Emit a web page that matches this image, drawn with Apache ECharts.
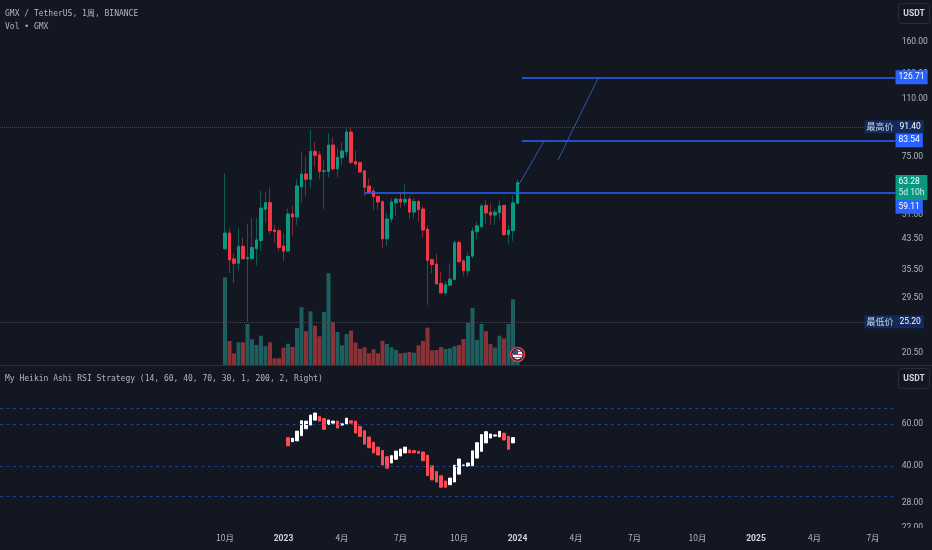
<!DOCTYPE html>
<html><head><meta charset="utf-8"><style>html,body{margin:0;padding:0;background:#131722}#c{width:932px;height:550px}</style>
<script src="https://cdn.jsdelivr.net/npm/echarts@6/dist/echarts.min.js"></script></head>
<body><div id="c"></div><script>
const opens=[40.8,45.3,38.2,37.1,41.5,38.2,38.3,40.8,43.1,53.0,55.4,46.2,46.0,41.6,40.2,51.4,50.4,61.5,66.9,64.6,77.7,75.9,68.0,68.0,81.0,69.2,74.5,77.5,88.3,72.6,72.1,68.3,61.8,59.8,57.7,55.7,43.6,49.7,55.3,56.7,55.6,56.7,52.0,55.8,53.1,46.5,38.0,36.9,32.5,30.5,32.1,33.3,42.6,37.7,35.3,38.9,45.7,47.2,54.4,52.0,51.0,51.8,54.4,44.8,46.0,55.1];
const closes=[45.3,37.9,37.1,41.5,38.2,38.5,41.2,43.3,53.4,55.4,46.0,45.7,41.2,40.2,51.4,50.4,61.8,66.9,64.6,77.7,75.7,68.0,68.3,81.0,69.2,74.7,77.9,88.3,72.3,71.5,67.8,61.3,59.4,57.6,55.6,43.6,49.7,55.6,56.7,55.6,56.6,52.0,55.8,52.9,46.2,37.8,36.8,32.4,30.5,32.2,33.4,42.5,37.5,35.3,38.8,45.9,47.5,54.2,51.7,51.0,52.0,54.2,44.8,46.2,55.3,63.28];
const lows=[40.8,34.8,32.6,35.4,38.2,25.2,37.7,36.5,40.3,48.5,44.8,42.5,40.2,37.7,40.2,44.6,47.8,55.3,57.7,61.1,70.2,64.6,53.1,65.5,68.4,65.5,71.0,75.0,71.4,69.9,67.5,58.0,59.0,52.5,53.0,41.1,41.6,48.5,50.8,53.5,54.2,49.7,50.1,48.8,44.0,28.2,34.8,32.2,30.4,30.0,32.1,33.2,37.1,34.2,34.2,38.3,43.5,47.0,48.0,47.8,47.8,49.4,44.5,42.2,43.0,55.1];
const highs=[67.2,46.7,39.6,46.9,44.0,48.1,50.0,50.1,59.8,59.3,61.3,47.8,46.7,45.3,53.3,54.2,64.6,77.5,75.0,89.5,82.6,78.0,73.4,87.6,85.1,79.6,82.4,90.5,91.4,78.0,72.6,68.7,65.0,61.1,58.2,56.3,51.7,57.0,57.3,59.1,62.4,57.7,57.0,56.3,54.2,47.7,38.3,39.5,35.1,33.0,37.1,43.1,43.1,38.1,39.9,47.0,48.8,55.0,56.3,55.2,52.9,56.3,54.6,47.8,58.2,64.6];
const volumes=[877,240,117,227,227,410,257,200,293,187,227,67,67,173,213,180,370,577,337,537,393,287,530,917,433,330,197,310,343,223,163,177,117,157,117,243,210,177,150,117,123,130,123,197,240,373,147,150,180,160,167,187,200,260,423,570,250,410,337,210,173,293,267,410,657,100];
const rsiOpens=[52.6,50.6,51.0,53.6,57.3,59.4,62.3,64.6,63.3,59.7,60.5,61.7,59.4,59.7,61.9,61.7,58.6,56.2,52.9,50.3,48.0,46.5,43.8,41.2,42.7,44.1,45.4,46.7,46.4,46.1,45.8,44.4,40.1,37.9,36.4,34.6,33.4,34.3,37.0,40.3,39.9,40.1,43.2,46.1,50.0,52.4,53.4,53.0,54.9,53.2,50.0];
const rsiCloses=[48.6,52.3,56.0,61.9,61.7,65.4,66.7,61.7,57.0,62.3,61.7,57.7,60.1,63.5,60.5,55.0,53.2,49.4,47.7,45.4,44.5,40.4,39.2,44.2,46.2,47.1,48.0,45.4,45.5,45.2,42.1,36.5,35.0,34.3,32.6,32.6,35.6,40.3,42.8,40.4,41.2,46.3,50.1,54.2,55.7,54.5,54.0,55.9,51.4,47.0,52.6];
const rsiFirst=14;
const priceTicks=[160,130,110,75,51,43.5,35.5,29.5,24.5,20.5];
const rsiTicks=[60,40,28,22];
const rsiLevels=[70,60,40,30];
const monthLabels={'2022-10-03':'10月','2023-01-02':'2023','2023-04-03':'4月','2023-07-03':'7月','2023-10-02':'10月','2024-01-01':'2024','2024-04-01':'4月','2024-07-01':'7月','2024-10-07':'10月','2025-01-06':'2025','2025-04-07':'4月','2025-07-07':'7月'};

const OFFSET=50, TOTAL=200;
const dates=[];
for(let k=0;k<TOTAL;k++){const d=new Date(Date.UTC(2022,9,3)+(k-OFFSET)*7*864e5);dates.push(d.toISOString().slice(0,10));}
const at=i=>dates[i+OFFSET];
const bg='#131722', UP='#089981', DN='#f23645', UPW='#0d5c52', DNW='#80293a', BLUE='#2962ff', DARKPILL='#132a5c', TXT='#b2b5be';
const F='Roboto,sans-serif', FS=8.5;
const lvl=(fromIdx,val,color,type,width,label)=>[
 {coord:[at(fromIdx),val],lineStyle:{color,type,width},label:label||{show:false}},
 {coord:[dates[TOTAL-1],val]}];
const pill=(text,bgc,off)=>({show:true,position:'end',distance:0,formatter:text,color:'#fff',fontFamily:F,fontSize:FS,backgroundColor:bgc,padding:[2,3,2,3],lineHeight:10,offset:off||[0,0]});
const hiLo=(name,val)=>({show:true,position:'end',distance:0,offset:[-31,0],formatter:`{a|${name}}{b|${val.toFixed(2)}}`,rich:{
 a:{backgroundColor:DARKPILL,color:'#d1d4dc',fontFamily:'"Noto Sans CJK SC"',fontSize:9,padding:[1,1,1,2],height:11,lineHeight:11},
 b:{backgroundColor:DARKPILL,color:'#fff',fontFamily:F,fontSize:FS,padding:[1,3,1,5],height:11,lineHeight:11}}});
const gridBase={left:-2.25,width:900,outerBoundsMode:'none'};
const titleStyle={fontFamily:'"DejaVu Sans Mono","Noto Sans CJK SC"',fontSize:8,fontWeight:'normal',color:TXT};

const option={
 backgroundColor:bg,animation:false,
 title:[
  {text:'GMX / TetherUS, 1周, BINANCE',left:5,top:10,padding:0,textStyle:titleStyle},
  {text:'Vol • GMX',left:5,top:23,padding:0,textStyle:titleStyle},
  {text:'My Heikin Ashi RSI Strategy (14, 60, 40, 70, 30, 1, 200, 2, Right)',left:5,top:375,padding:0,textStyle:titleStyle}
 ],
 grid:[
  {...gridBase,top:0,height:365},
  {...gridBase,top:0,height:365},
  {...gridBase,top:366,height:162}
 ],
 xAxis:[0,1,2].map(g=>({type:'category',gridIndex:g,data:dates,boundaryGap:true,z:5,
  axisLine:{show:false},axisTick:{show:false},splitLine:{show:false},
  axisLabel:g<2?{show:false}:{show:true,margin:6,color:TXT,fontFamily:'"Noto Sans CJK SC"',fontSize:8.5,
   interval:(idx,val)=>val in monthLabels,
   formatter:v=>{const t=monthLabels[v]||'';return /^\d{4}$/.test(t)?`{y|${t}}`:t;},
   rich:{y:{fontWeight:'bold',color:'#d1d4dc',fontFamily:F,fontSize:8.5}}}})),
 yAxis:[
  {type:'log',logBase:Math.E,gridIndex:0,position:'right',min:18.95,max:211.1,axisLine:{show:false},axisTick:{show:false},splitLine:{show:false},
   axisLabel:{show:true,customValues:priceTicks,margin:4,color:TXT,fontFamily:F,fontSize:FS,formatter:v=>(+v).toFixed(2)}},
  {type:'value',gridIndex:1,min:0,max:3650,show:false},
  {type:'log',logBase:Math.E,gridIndex:2,position:'right',min:22,max:105,axisLine:{show:false},axisTick:{show:false},splitLine:{show:false},
   axisLabel:{show:true,customValues:rsiTicks,margin:4,color:TXT,fontFamily:F,fontSize:FS,formatter:v=>(+v).toFixed(2)}}
 ],
 series:[
  {type:'bar',name:'Vol',xAxisIndex:1,yAxisIndex:1,barWidth:4,silent:true,
   data:volumes.map((v,i)=>({value:[at(i),v],itemStyle:{color:closes[i]>=opens[i]?'#1d5f5e':'#8a3238'}}))},
  {type:'candlestick',name:'wick',xAxisIndex:0,yAxisIndex:0,barWidth:1,silent:true,encode:{x:0,y:[1,2,3,4]},
   itemStyle:{color:UPW,color0:DNW,borderColor:UPW,borderColor0:DNW,borderWidth:1},
   data:opens.map((o,i)=>[at(i),o,closes[i],lows[i],highs[i]]),
   markLine:{silent:true,symbol:'none',animation:false,precision:2,data:[
    [{coord:[dates[0],91.40],lineStyle:{color:'#434651',type:'dotted',width:1},label:hiLo('最高价',91.40)},{coord:[dates[TOTAL-1],91.40]}],
    [{coord:[dates[0],25.20],lineStyle:{color:'#434651',type:'dotted',width:1},label:hiLo('最低价',25.20)},{coord:[dates[TOTAL-1],25.20]}],
    lvl(66,126.71,BLUE,'solid',1.5,pill('126.71',BLUE)),
    lvl(66,83.54,BLUE,'solid',1.5,pill('83.54',BLUE)),
    lvl(31,59.11,BLUE,'solid',1.5,pill('59.11',BLUE,[0,14])),
    [{coord:[at(65),61.4],lineStyle:{color:'#2f62b8',type:'solid',width:0.9},label:{show:false}},{coord:[at(71),83.54]}],
    [{coord:[at(74),73.4],lineStyle:{color:'#2f62b8',type:'solid',width:0.9},label:{show:false}},{coord:[at(83),126.71]}],
    [{coord:[dates[TOTAL-2],63.28],lineStyle:{color:'rgba(0,0,0,0)',width:1},label:{show:true,position:'end',distance:0,offset:[0,5],backgroundColor:UP,padding:[2,3,2,3],
      formatter:'{a|63.28}\n{b|5d 10h}',rich:{a:{color:'#fff',fontFamily:F,fontSize:FS,lineHeight:10.5},b:{color:'#d8f2ec',fontFamily:F,fontSize:FS,lineHeight:10.5}}}},{coord:[dates[TOTAL-1],63.28]}]
   ]}},
  {type:'candlestick',name:'GMX',xAxisIndex:0,yAxisIndex:0,barWidth:3,silent:true,encode:{x:0,y:[1,2,3,4]},
   itemStyle:{color:UP,color0:DN,borderColor:UP,borderColor0:DN,borderWidth:1},
   data:opens.map((o,i)=>[at(i),o,closes[i],Math.min(o,closes[i]),Math.max(o,closes[i])])},
  {type:'candlestick',name:'RSI',xAxisIndex:2,yAxisIndex:2,barWidth:3,silent:true,encode:{x:0,y:[1,2,3,4]},
   itemStyle:{color:'#ffffff',color0:'#ff4a52',borderColor:'#ffffff',borderColor0:'#ff4a52',borderWidth:1},
   data:rsiOpens.map((o,k)=>[at(k+rsiFirst),o,rsiCloses[k],Math.min(o,rsiCloses[k]),Math.max(o,rsiCloses[k])]),
   markLine:{silent:true,symbol:'none',animation:false,label:{show:false},
    lineStyle:{color:'#1d3f91',type:[3,3.5],width:1.2},
    data:rsiLevels.map(v=>[{coord:[dates[0],v]},{coord:[dates[TOTAL-1],v]}])}}
 ],
 graphic:[
  {type:'rect',z:2,silent:true,shape:{x:0,y:528,width:932,height:22},style:{fill:bg}},
  {type:'line',z:3,silent:true,shape:{x1:0,y1:365.5,x2:932,y2:365.5},style:{stroke:'#2a2e39',lineWidth:1}},
  {type:'rect',z:3,silent:true,shape:{x:898.5,y:3.5,width:31,height:20,r:3},style:{fill:bg,stroke:'#2a2e39',lineWidth:1}},
  {type:'text',z:4,silent:true,x:914,y:13.5,style:{text:'USDT',fill:'#d1d4dc',font:'bold 8.5px Roboto',align:'center',verticalAlign:'middle'}},
  {type:'rect',z:3,silent:true,shape:{x:898.5,y:368.5,width:31,height:20,r:3},style:{fill:bg,stroke:'#2a2e39',lineWidth:1}},
  {type:'text',z:4,silent:true,x:914,y:378.5,style:{text:'USDT',fill:'#d1d4dc',font:'bold 8.5px Roboto',align:'center',verticalAlign:'middle'}},
  {type:'circle',z:6,silent:true,shape:{cx:517.5,cy:354.5,r:7},style:{fill:'#131722',stroke:'#f23645',lineWidth:1.6}},
  {type:'circle',z:7,silent:true,shape:{cx:517.5,cy:354.5,r:5},style:{fill:'#f4f4f4'}},
  {type:'rect',z:8,silent:true,shape:{x:513,y:351,width:9,height:1},style:{fill:'#e04050'}},
  {type:'rect',z:8,silent:true,shape:{x:512.8,y:354,width:9.4,height:1},style:{fill:'#e04050'}},
  {type:'rect',z:8,silent:true,shape:{x:513,y:357,width:9,height:1},style:{fill:'#e04050'}},
  {type:'rect',z:9,silent:true,shape:{x:513,y:350,width:5,height:4.5},style:{fill:'#2b4f9e'}}
 ]
};
echarts.init(document.getElementById('c'),null,{renderer:'canvas'}).setOption(option);
</script></body></html>
